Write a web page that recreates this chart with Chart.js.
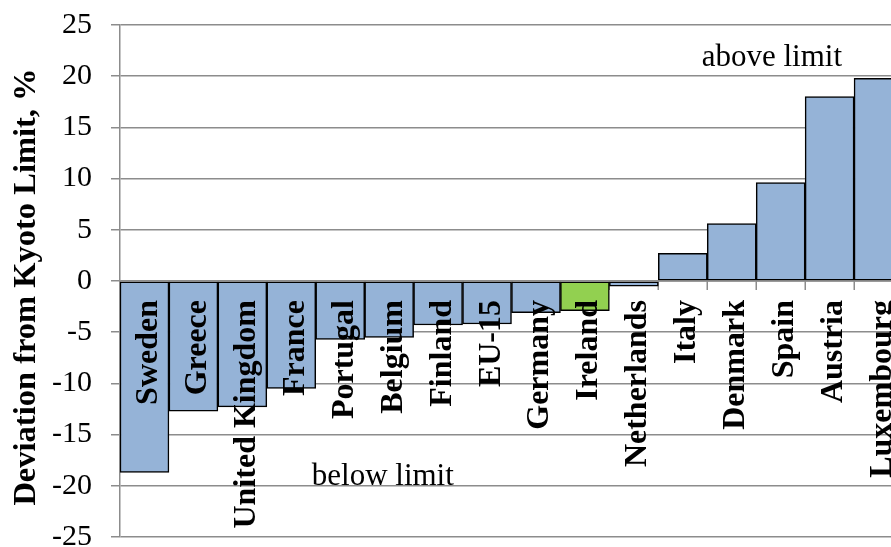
<!DOCTYPE html>
<html>
<head>
<meta charset="utf-8">
<style>
  html, body { margin: 0; padding: 0; background: #ffffff; overflow: hidden; width: 891px; height: 547px; }
  canvas { display: block; }
</style>
<script src="https://cdn.jsdelivr.net/npm/chart.js@4/dist/chart.umd.min.js"></script>
</head>
<body>
<canvas id="chart" width="903" height="547"></canvas>
<script>
// Deviation of greenhouse-gas emissions from the Kyoto limit, per country
const categories = ['Sweden', 'Greece', 'United Kingdom', 'France', 'Portugal', 'Belgium', 'Finland', 'EU-15',
  'Germany', 'Ireland', 'Netherlands', 'Italy', 'Denmark', 'Spain', 'Austria', 'Luxembourg'];
const deviation = [-18.7, -12.7, -12.3, -10.5, -5.7, -5.5, -4.3, -4.2, -3.1, -2.9, -0.5, 2.7, 5.6, 9.6, 18.0, 19.8];
const highlighted = ['Ireland'];
const yMin = -25;
const yMax = 25;
const yStep = 5;
const yTitle = 'Deviation from Kyoto Limit, %';
const notes = [
  { text: 'above limit', x: 12.82, y: 21.0 },
  { text: 'below limit', x: 4.87, y: -19.9 }
];

const SERIF = '"Liberation Serif", "Times New Roman", Times, serif';
const GRID = '#8c8c8c';
const BAR_BLUE = '#95B3D7';
const BAR_GREEN = '#92D050';

const barColors = categories.map(c => highlighted.includes(c) ? BAR_GREEN : BAR_BLUE);

// Category tick marks and labels sit on the zero line, inside the plot
const zeroAxisPlugin = {
  id: 'zeroAxis',
  beforeDatasetsDraw(chart) {
    const { ctx, scales: { x, y } } = chart;
    const y0 = y.getPixelForValue(0);
    ctx.save();
    ctx.strokeStyle = GRID;
    ctx.lineWidth = 1.5;
    ctx.beginPath();
    for (let i = 0; i <= categories.length; i++) {
      const px = Math.round(x.getPixelForValue(i - 0.5)) + 0.25;
      ctx.moveTo(px, y0);
      ctx.lineTo(px, y0 + 9);
    }
    ctx.stroke();
    ctx.restore();
  },
  afterDatasetsDraw(chart) {
    const { ctx, chartArea, scales: { x, y } } = chart;
    const y0 = y.getPixelForValue(0);
    ctx.save();
    // zero line
    ctx.strokeStyle = GRID;
    ctx.lineWidth = 1.5;
    ctx.beginPath();
    ctx.moveTo(chartArea.left, y0);
    ctx.lineTo(chartArea.right, y0);
    ctx.stroke();

    // rotated category names
    ctx.fillStyle = '#000000';
    ctx.font = 'bold 32px ' + SERIF;
    ctx.textAlign = 'right';
    ctx.textBaseline = 'alphabetic';
    categories.forEach((name, i) => {
      const cx = x.getPixelForValue(i);
      ctx.save();
      ctx.translate(cx + 12.5, y0 + 19);
      ctx.rotate(-Math.PI / 2);
      ctx.fillText(name, 0, 0);
      ctx.restore();
    });

    // value-axis title, rotated along the left edge
    ctx.save();
    ctx.font = 'bold 32.5px ' + SERIF;
    ctx.textAlign = 'center';
    ctx.translate(35, (chartArea.top + chartArea.bottom) / 2 + 6);
    ctx.rotate(-Math.PI / 2);
    ctx.fillText(yTitle, 0, 0);
    ctx.restore();

    // region notes
    ctx.font = '31px ' + SERIF;
    ctx.textAlign = 'center';
    notes.forEach(n => {
      ctx.fillText(n.text, x.getPixelForValue(n.x), y.getPixelForValue(n.y));
    });
    ctx.restore();
  }
};

new Chart(document.getElementById('chart'), {
  type: 'bar',
  data: {
    labels: categories,
    datasets: [{
      data: deviation,
      backgroundColor: barColors,
      borderColor: '#000000',
      borderWidth: 1.5,
      borderSkipped: false,
      barPercentage: 1,
      categoryPercentage: 1
    }]
  },
  options: {
    responsive: false,
    animation: false,
    devicePixelRatio: 1,
    layout: { padding: { top: 25, bottom: 10, left: 0, right: 0 } },
    plugins: {
      legend: { display: false },
      tooltip: { enabled: false }
    },
    scales: {
      x: {
        display: false,
        offset: true
      },
      y: {
        min: yMin,
        max: yMax,
        ticks: {
          stepSize: yStep,
          color: '#000000',
          padding: 19,
          font: { family: SERIF, size: 30 }
        },
        grid: {
          color: GRID,
          lineWidth: 1.5,
          tickLength: 9,
          drawTicks: true
        },
        border: { display: true, color: GRID, width: 1.5 },
        title: { display: false },
        afterFit(scale) {
          scale.width = 120;
          scale.paddingTop = 0;
          scale.paddingBottom = 0;
        }
      }
    }
  },
  plugins: [zeroAxisPlugin]
});
</script>
</body>
</html>
